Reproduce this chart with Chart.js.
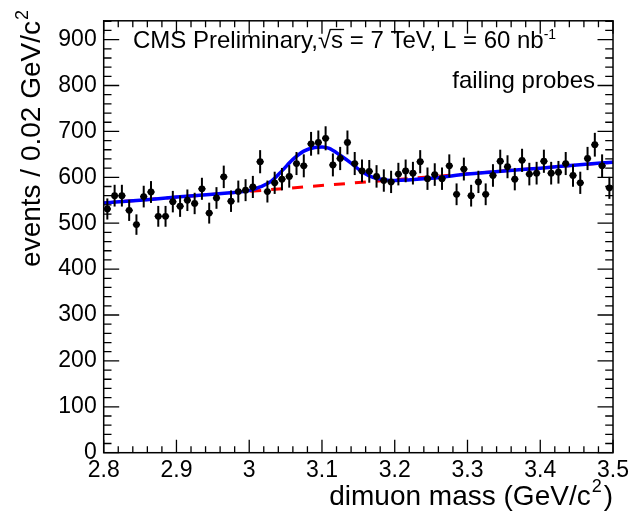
<!DOCTYPE html>
<html>
<head>
<meta charset="utf-8">
<script src="https://cdn.jsdelivr.net/npm/chart.js@4.4.1/dist/chart.umd.min.js"></script>
<style>
  html, body { margin: 0; padding: 0; background: #fff; }
  #c { display: block; }
</style>
</head>
<body>
<canvas id="c" width="633" height="517"></canvas>
<script>
// ---- data ----
const massBins = [
  2.805, 2.815, 2.825, 2.835, 2.845, 2.855, 2.865, 2.875, 2.885, 2.895,
  2.905, 2.915, 2.925, 2.935, 2.945, 2.955, 2.965, 2.975, 2.985, 2.995,
  3.005, 3.015, 3.025, 3.035, 3.045, 3.055, 3.065, 3.075, 3.085, 3.095,
  3.105, 3.115, 3.125, 3.135, 3.145, 3.155, 3.165, 3.175, 3.185, 3.195,
  3.205, 3.215, 3.225, 3.235, 3.245, 3.255, 3.265, 3.275, 3.285, 3.295,
  3.305, 3.315, 3.325, 3.335, 3.345, 3.355, 3.365, 3.375, 3.385, 3.395,
  3.405, 3.415, 3.425, 3.435, 3.445, 3.455, 3.465, 3.475, 3.485, 3.495
];
const events = [
  531, 560, 560, 528, 497, 558, 568, 515, 515, 547,
  537, 550, 543, 575, 522, 555, 601, 548, 569, 572,
  579, 634, 569, 588, 596, 602, 630, 625, 673, 676,
  685, 627, 641, 676, 630, 614, 613, 602, 593, 590,
  607, 614, 609, 634, 597, 606, 597, 625, 563, 618,
  560, 590, 563, 604, 635, 623, 596, 637, 607, 609,
  635, 609, 611, 630, 604, 588, 641, 671, 625, 577
];
const eventErrors = [
  23.0, 23.7, 23.7, 23.0, 22.3, 23.6, 23.8, 22.7, 22.7, 23.4,
  23.2, 23.5, 23.3, 24.0, 22.8, 23.6, 24.5, 23.4, 23.9, 23.9,
  24.1, 25.2, 23.9, 24.2, 24.4, 24.5, 25.1, 25.0, 25.9, 26.0,
  26.2, 25.0, 25.3, 26.0, 25.1, 24.8, 24.8, 24.5, 24.4, 24.3,
  24.6, 24.8, 24.7, 25.2, 24.4, 24.6, 24.4, 25.0, 23.7, 24.9,
  23.7, 24.3, 23.7, 24.6, 25.2, 25.0, 24.4, 25.2, 24.6, 24.7,
  25.2, 24.7, 24.7, 25.1, 24.6, 24.2, 25.3, 25.9, 25.0, 24.0
];
const binHalfWidth = 0.005;

// total fit (blue)
const fitMass   = [2.80, 2.85, 2.90, 2.95, 2.97, 3.00, 3.015, 3.03, 3.045, 3.06, 3.075, 3.09, 3.10, 3.11, 3.125, 3.14, 3.155, 3.17, 3.185, 3.20, 3.25, 3.30, 3.35, 3.40, 3.45, 3.50];
const fitEvents = [544,  550,  557,  563,  566,  571,  579,   591,  614,   639,  657,   665,  666,  663,  648,   631,  612,   600,  595,   593,  598,  607,  614,  620,  627,  633];

// background (red dashed)
const bkgMass   = [2.80, 3.50];
const bkgEvents = [544, 633];

// axes
const xMin = 2.8, xMax = 3.5;
const yMin = 0, yMax = 941;
const xTickValues = [2.8, 2.9, 3.0, 3.1, 3.2, 3.3, 3.4, 3.5];
const xTickLabels = ['2.8', '2.9', '3', '3.1', '3.2', '3.3', '3.4', '3.5'];
const yTickValues = [0, 100, 200, 300, 400, 500, 600, 700, 800, 900];
const yTickLabels = ['0', '100', '200', '300', '400', '500', '600', '700', '800', '900'];
const xMinorStep = 0.02, yMinorStep = 20;

const FONT = '"Liberation Sans", Arial, Helvetica, sans-serif';

const errorBars = {
  id: 'errorBars',
  afterDatasetsDraw(chart) {
    const { ctx, scales: { x, y } } = chart;
    ctx.save();
    ctx.strokeStyle = '#000';
    for (let i = 0; i < massBins.length; i++) {
      const px = x.getPixelForValue(massBins[i]);
      const y1 = y.getPixelForValue(events[i] - eventErrors[i]);
      const y2 = y.getPixelForValue(events[i] + eventErrors[i]);
      ctx.lineWidth = 2;
      ctx.beginPath();
      ctx.moveTo(px, y1); ctx.lineTo(px, y2);
      ctx.stroke();
      const py = y.getPixelForValue(events[i]);
      ctx.lineWidth = 1.5;
      ctx.beginPath();
      ctx.moveTo(x.getPixelForValue(massBins[i] - binHalfWidth), py);
      ctx.lineTo(x.getPixelForValue(massBins[i] + binHalfWidth), py);
      ctx.stroke();
    }
    ctx.restore();
  }
};

const rootFrame = {
  id: 'rootFrame',
  afterDraw(chart) {
    const { ctx, chartArea: { left, right, top, bottom }, scales: { x, y } } = chart;
    ctx.save();
    ctx.strokeStyle = '#000';
    ctx.lineWidth = 1.5;
    ctx.strokeRect(left, top, right - left, bottom - top);
    ctx.lineWidth = 1.3;
    // x ticks (bottom and top)
    const nx = Math.round((xMax - xMin) / xMinorStep);
    for (let i = 0; i <= nx; i++) {
      const v = xMin + i * xMinorStep;
      const px = x.getPixelForValue(v);
      const len = (i % 5 === 0) ? 13 : 6.5;
      ctx.beginPath();
      ctx.moveTo(px, bottom); ctx.lineTo(px, bottom - len);
      ctx.moveTo(px, top); ctx.lineTo(px, top + len);
      ctx.stroke();
    }
    // y ticks (left and right)
    for (let v = yMin; v <= yMax; v += yMinorStep) {
      const py = y.getPixelForValue(v);
      const len = (v % 100 === 0) ? 15.5 : 7.8;
      ctx.beginPath();
      ctx.moveTo(left, py); ctx.lineTo(left + len, py);
      ctx.moveTo(right, py); ctx.lineTo(right - len, py);
      ctx.stroke();
    }
    // texts
    ctx.fillStyle = '#000';
    ctx.textBaseline = 'alphabetic';
    ctx.font = '24px ' + FONT;
    ctx.textAlign = 'left';
    let tx = 133, ty = 48;
    const part1 = 'CMS Preliminary,';
    ctx.fillText(part1, tx, ty);
    tx += ctx.measureText(part1).width;
    ctx.fillText('\u221A', tx, ty);
    tx += ctx.measureText('\u221A').width;
    const wS = ctx.measureText('s').width;
    ctx.fillText('s', tx, ty);
    ctx.lineWidth = 1.3;
    ctx.beginPath();
    ctx.moveTo(tx - 1, ty - 18.5); ctx.lineTo(tx + wS + 1, ty - 18.5);
    ctx.stroke();
    tx += wS;
    const part2 = ' = 7 TeV, L = 60 nb';
    ctx.fillText(part2, tx, ty);
    tx += ctx.measureText(part2).width;
    ctx.font = '14px ' + FONT;
    ctx.fillText('-1', tx, ty - 9);

    ctx.font = '24px ' + FONT;
    ctx.textAlign = 'right';
    ctx.fillText('failing probes', 595, 88);

    // x axis title, right end at 613
    ctx.textAlign = 'left';
    const xMain = 'dimuon mass (GeV/c';
    ctx.font = '28px ' + FONT;
    const wMain = ctx.measureText(xMain).width;
    const wPar = ctx.measureText(')').width;
    ctx.font = '18px ' + FONT;
    const wSup = ctx.measureText('2').width;
    const xStart = 613 - (wMain + 1 + wSup + 2 + wPar);
    ctx.font = '28px ' + FONT;
    ctx.fillText(xMain, xStart, 505);
    ctx.fillText(')', xStart + wMain + 1 + wSup + 2, 505);
    ctx.font = '18px ' + FONT;
    ctx.fillText('2', xStart + wMain + 1, 492);

    // y axis title, rotated, top end at y = 10
    ctx.translate(40, 10);
    ctx.rotate(-Math.PI / 2);
    ctx.textAlign = 'right';
    ctx.font = '18px ' + FONT;
    ctx.fillText('2', 0, -12);
    ctx.font = '28px ' + FONT;
    ctx.fillText('events / 0.02 GeV/c', -(wSup + 1), 0);
    ctx.restore();
  }
};

new Chart(document.getElementById('c'), {
  type: 'scatter',
  data: {
    datasets: [
      {
        label: 'data',
        data: massBins.map((m, i) => ({ x: m, y: events[i] })),
        pointRadius: 3.4,
        pointBackgroundColor: '#000',
        pointBorderColor: '#000',
        pointBorderWidth: 0,
        showLine: false,
        order: 0
      },
      {
        label: 'fit',
        data: fitMass.map((m, i) => ({ x: m, y: fitEvents[i] })),
        showLine: true,
        borderColor: '#0000ff',
        borderWidth: 3.5,
        pointRadius: 0,
        cubicInterpolationMode: 'monotone',
        fill: false,
        order: 1
      },
      {
        label: 'background',
        data: bkgMass.map((m, i) => ({ x: m, y: bkgEvents[i] })),
        showLine: true,
        borderColor: '#ff0000',
        borderWidth: 3,
        borderDash: [11, 10],
        pointRadius: 0,
        fill: false,
        order: 2
      }
    ]
  },
  options: {
    responsive: false,
    animation: false,
    devicePixelRatio: 1,
    layout: { padding: { top: 10.5, right: 14.5, left: 0, bottom: 0 } },
    plugins: { legend: { display: false }, tooltip: { enabled: false } },
    scales: {
      x: {
        type: 'linear',
        min: xMin, max: xMax,
        grid: { display: false, drawTicks: false },
        border: { display: false },
        afterBuildTicks: (s) => { s.ticks = xTickValues.map(v => ({ value: v })); },
        afterFit: (s) => { s.height = 64.3; },
        ticks: {
          autoSkip: false,
          maxRotation: 0,
          padding: 4,
          color: '#000',
          font: { family: FONT, size: 23 },
          callback: (v, i) => xTickLabels[i]
        }
      },
      y: {
        type: 'linear',
        min: yMin, max: yMax,
        grid: { display: false, drawTicks: false },
        border: { display: false },
        afterBuildTicks: (s) => { s.ticks = yTickValues.map(v => ({ value: v })); },
        afterFit: (s) => { s.width = 103.7; },
        ticks: {
          autoSkip: false,
          padding: 7,
          color: '#000',
          font: { family: FONT, size: 23 },
          callback: (v, i) => yTickLabels[i]
        }
      }
    }
  },
  plugins: [errorBars, rootFrame]
});
</script>
</body>
</html>
